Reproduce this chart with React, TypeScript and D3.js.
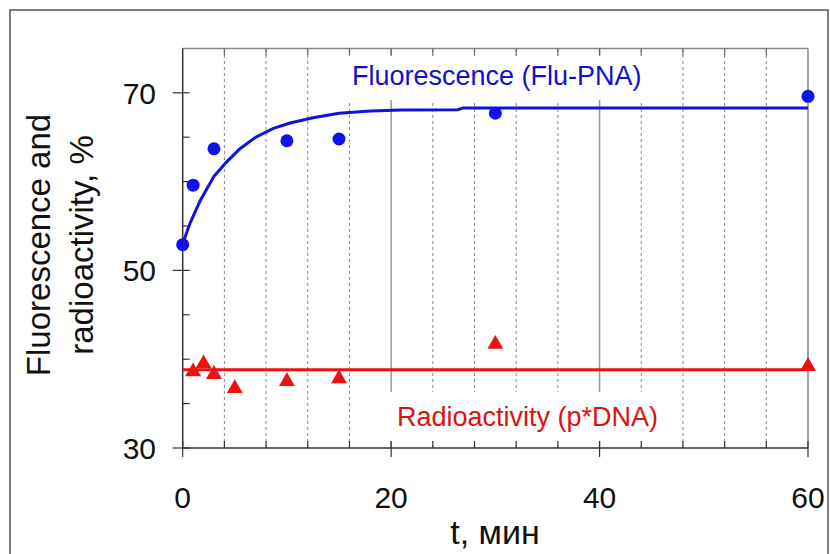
import React from "react";
import * as d3 from "d3";

const fluoT = [0, 1, 3, 10, 15, 30, 60];
const fluoY = [52.9, 59.6, 63.7, 64.6, 64.8, 67.7, 69.6];
const fluoCurveT = [0, 0.7, 1.7, 3, 4.2, 5.5, 7, 8.7, 10.3, 12.5, 15, 18, 21, 26.4, 26.9, 60];
const fluoCurveY = [53.0, 55.3, 57.9, 60.6, 62.2, 63.7, 65.0, 66.0, 66.6, 67.2, 67.7, 67.95, 68.05, 68.1, 68.3, 68.3];
const radT = [1, 2, 3, 5, 10, 15, 30, 60];
const radY = [38.6, 39.5, 38.3, 36.7, 37.5, 37.8, 41.7, 39.2];
const radLineT = [0, 60];
const radLineY = [38.8, 38.8];
const xMajor = [0, 20, 40, 60];
const xMinor = [4, 8, 12, 16, 24, 28, 32, 36, 44, 48, 52, 56];
const yMajor = [30, 50, 70];
const yMinor = [35, 40, 45, 55, 60, 65];

const FONT = "'Liberation Sans', Arial, sans-serif";

export default function App() {
  const x = d3.scaleLinear().domain([0, 60]).range([182.7, 808]);
  const y = d3.scaleLinear().domain([30, 75]).range([448, 48.4]);
  const [y0, y1] = y.range();
  const [x0, x1] = x.range();
  const line = d3
    .line<[number, number]>()
    .x((d) => x(d[0]))
    .y((d) => y(d[1]));
  const curve = fluoCurveT.map((t, i) => [t, fluoCurveY[i]] as [number, number]);
  const rline = radLineT.map((t, i) => [t, radLineY[i]] as [number, number]);
  const tri = d3.symbol().type(d3.symbolTriangle).size(110)();

  return (
    <svg
      width={830}
      height={554}
      style={{ position: "absolute", left: 0, top: 0, background: "#fff" }}
    >
      <rect x={10} y={10} width={818} height={560} fill="#fff" stroke="#555" strokeWidth={1.5} />
      {/* grid */}
      {xMinor.map((t) => (
        <line key={"g" + t} x1={x(t)} x2={x(t)} y1={y0} y2={y1} stroke="#888" strokeWidth={1} strokeDasharray="3,3" />
      ))}
      {[20, 40].map((t) => (
        <line key={"G" + t} x1={x(t)} x2={x(t)} y1={y0} y2={y1} stroke="#999" strokeWidth={1.5} />
      ))}
      {/* label backgrounds */}
      <rect x={344} y={56} width={306} height={44} fill="#fff" />
      <rect x={388} y={392} width={274} height={49} fill="#fff" />
      {/* top & right frame */}
      <line x1={x0} x2={x1} y1={y1} y2={y1} stroke="#888" strokeWidth={1.5} />
      <line x1={x1} x2={x1} y1={y1} y2={y0} stroke="#888" strokeWidth={1.5} />
      {/* top ticks */}
      {[...xMinor, 20, 40].map((t) => (
        <line key={"tt" + t} x1={x(t)} x2={x(t)} y1={y1} y2={y1 + 7} stroke="#666" strokeWidth={1.2} />
      ))}
      {/* bottom ticks */}
      {xMinor.map((t) => (
        <line key={"bt" + t} x1={x(t)} x2={x(t)} y1={y0} y2={y0 - 7} stroke="#333" strokeWidth={1.2} />
      ))}
      {xMajor.map((t) => (
        <line key={"bT" + t} x1={x(t)} x2={x(t)} y1={y0 - 7} y2={y0 + 9} stroke="#333" strokeWidth={1.2} />
      ))}
      {/* left ticks */}
      {yMinor.map((v) => (
        <line key={"lt" + v} x1={x0} x2={x0 + 7} y1={y(v)} y2={y(v)} stroke="#333" strokeWidth={1.2} />
      ))}
      {yMajor.map((v) => (
        <line key={"lT" + v} x1={x0 - 10} x2={x0 + 7} y1={y(v)} y2={y(v)} stroke="#333" strokeWidth={1.2} />
      ))}
      {/* axes */}
      <line x1={x0} x2={x0} y1={y1} y2={y0} stroke="#333" strokeWidth={1.5} />
      <line x1={x0} x2={x1} y1={y0} y2={y0} stroke="#333" strokeWidth={1.5} />
      {/* tick labels */}
      {yMajor.map((v) => (
        <text key={"yl" + v} x={156} y={y(v) + 11} textAnchor="end" fontFamily={FONT} fontSize={30} fill="#111">
          {v}
        </text>
      ))}
      {xMajor.map((t) => (
        <text key={"xl" + t} x={x(t)} y={508} textAnchor="middle" fontFamily={FONT} fontSize={30} fill="#111">
          {t}
        </text>
      ))}
      {/* series */}
      <path d={line(rline) || ""} fill="none" stroke="#ee1111" strokeWidth={3} />
      <path d={line(curve) || ""} fill="none" stroke="#1111dd" strokeWidth={3} />
      {fluoT.map((t, i) => (
        <circle key={"c" + t} cx={x(t)} cy={y(fluoY[i])} r={6.5} fill="#1111ee" />
      ))}
      {radT.map((t, i) => (
        <path key={"r" + t} d={tri || ""} transform={`translate(${x(t)},${y(radY[i])})`} fill="#ee1111" />
      ))}
      {/* series labels */}
      <text x={352} y={85} fontFamily={FONT} fontSize={27} fill="#1111cc">
        Fluorescence (Flu-PNA)
      </text>
      <text x={397} y={426} fontFamily={FONT} fontSize={27} fill="#dd1111">
        Radioactivity (p*DNA)
      </text>
      {/* axis titles */}
      <text transform="translate(50,245) rotate(-90)" textAnchor="middle" fontFamily={FONT} fontSize={33} fill="#111">
        Fluorescence and
      </text>
      <text transform="translate(93,245) rotate(-90)" textAnchor="middle" fontFamily={FONT} fontSize={33} fill="#111">
        radioactivity, %
      </text>
      <text x={495} y={544} textAnchor="middle" fontFamily={FONT} fontSize={34} fill="#111">
        t, мин
      </text>
    </svg>
  );
}
